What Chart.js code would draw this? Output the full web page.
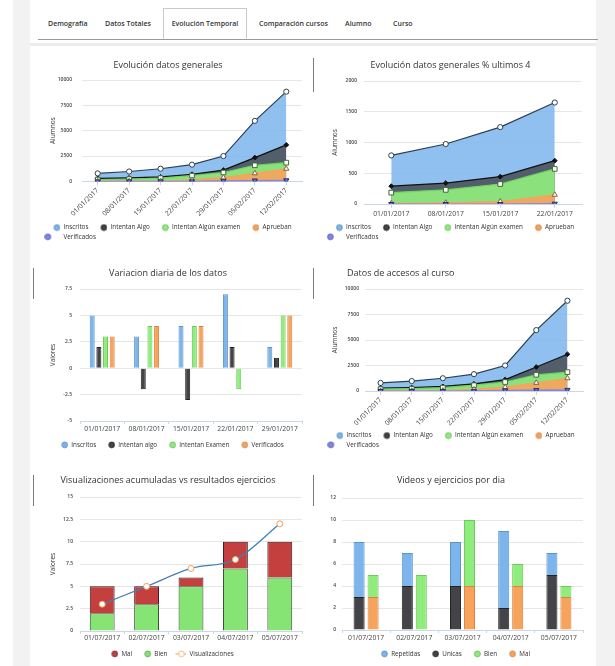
<!DOCTYPE html>
<html>
<head>
<meta charset="utf-8">
<script src="https://cdn.jsdelivr.net/npm/chart.js@4.4.1/dist/chart.umd.min.js"></script>
<style>
  body { margin: 0; width: 615px; height: 666px; position: relative; overflow: hidden; background: #fff; font-family: "Open Sans", sans-serif; }
  .side-l { position: absolute; left: 13px; top: 0; width: 17px; height: 666px; background: #f2f2f2; }
  .side-r { position: absolute; left: 596px; top: 0; width: 19px; height: 666px; background: #f2f2f2; }
  .tabs { position: absolute; left: 38px; top: 9px; width: 560px; height: 30px; border-bottom: 1px solid #999; }
  .tab { position: absolute; top: 0; height: 30px; line-height: 30px; font-size: 7px; font-weight: 600; color: #333; white-space: nowrap; }
  .tab.active { top: -1px; height: 31px; border: 1px solid #c9c9c9; border-bottom: 1px solid #fff; background: #fff; box-sizing: border-box; text-align: center; }
  .band { position: absolute; left: 30px; top: 43px; width: 566px; height: 3px; background: #ececec; }
  .box { position: absolute; }
  .mark { position: absolute; width: 1px; height: 31px; background: #7a7a7a; z-index: 2; }
</style>
</head>
<body>
<div class="side-l"></div>
<div class="side-r"></div>
<div class="tabs">
  <span class="tab" style="left:10px">Demografía</span>
  <span class="tab" style="left:67px">Datos Totales</span>
  <span class="tab active" style="left:125px;width:84px">Evolución Temporal</span>
  <span class="tab" style="left:221px">Comparación cursos</span>
  <span class="tab" style="left:307px">Alumno</span>
  <span class="tab" style="left:355px">Curso</span>
</div>
<div class="band"></div>

<div class="box" style="left:30px;top:50px"><canvas id="evolucion" width="280" height="200"></canvas></div>
<div class="box" style="left:315px;top:50px"><canvas id="ultimos4" width="280" height="200"></canvas></div>
<div class="box" style="left:30px;top:258px"><canvas id="variacion" width="280" height="200"></canvas></div>
<div class="box" style="left:315px;top:258px"><canvas id="accesos" width="280" height="200"></canvas></div>
<div class="box" style="left:30px;top:467px"><canvas id="visualizaciones" width="280" height="200"></canvas></div>
<div class="box" style="left:315px;top:467px"><canvas id="videos" width="280" height="200"></canvas></div>

<div class="mark" style="left:313px;top:58px;height:34px"></div>
<div class="mark" style="left:33px;top:268px"></div>
<div class="mark" style="left:313px;top:268px"></div>
<div class="mark" style="left:33px;top:475px"></div>
<div class="mark" style="left:313px;top:475px"></div>

<script>
// datos semanales (evolucion general y accesos)
const fechasSemana = ['01/01/2017', '08/01/2017', '15/01/2017', '22/01/2017', '29/01/2017', '05/02/2017', '12/02/2017'];
const inscritos = [790, 975, 1250, 1650, 2500, 5970, 8850];
const intentanAlgo = [290, 340, 445, 705, 1120, 2350, 3600];
const intentanExamen = [185, 230, 325, 570, 880, 1590, 1850];
const aprueban = [10, 20, 40, 150, 380, 800, 1250];
const verificados = [0, 0, 0, 5, 60, 90, 110];

// variacion diaria
const fechasVariacion = ['01/01/2017', '08/01/2017', '15/01/2017', '22/01/2017', '29/01/2017'];
const varInscritos = [5, 3, 4, 7, 2];
const varIntentanAlgo = [2, -2, -3, 2, 1];
const varIntentanExamen = [3, 4, 4, -2, 5];
const varVerificados = [3, 4, 4, 0, 5];

// julio
const fechasJulio = ['01/07/2017', '02/07/2017', '03/07/2017', '04/07/2017', '05/07/2017'];
const ejerciciosMal = [3, 2, 1, 3, 4];
const ejerciciosBien = [2, 3, 5, 7, 6];
const visualizaciones = [3, 5, 7, 8, 12];
const videosRepetidas = [5, 3, 4, 7, 2];
const videosUnicas = [3, 4, 4, 2, 5];
const diaBien = [2, 5, 6, 2, 1];
const diaMal = [3, 0, 4, 4, 3];

// ticks
const ticksAlumnos = [0, 2500, 5000, 7500, 10000];
const ticksUltimos4 = [0, 500, 1000, 1500, 2000];
const ticksVariacion = [-5, -2.5, 0, 2.5, 5, 7.5];
const ticksVisual = [0, 2.5, 5, 7.5, 10, 12.5, 15];
const ticksVideos = [0, 2, 4, 6, 8, 10, 12];

const FONT = '"Open Sans", sans-serif';
Chart.defaults.font.family = FONT;
Chart.defaults.color = '#444';

const azul = '#7cb5ec', negro = '#434348', verde = '#90ed7d', naranja = '#f7a35c', morado = '#8085e9';

// marcador de leyenda: hueco a la izquierda + circulo (o linea con circulo)
function legendMarker(fill, stroke, lineColor) {
  const c = document.createElement('canvas');
  c.width = 16; c.height = 8;
  const g = c.getContext('2d');
  let cx = 12.5;
  if (lineColor) {
    cx = 11;
    g.strokeStyle = lineColor; g.lineWidth = 1;
    g.beginPath(); g.moveTo(5, 4); g.lineTo(16, 4); g.stroke();
  }
  g.beginPath(); g.arc(cx, 4, 2.9, 0, Math.PI * 2);
  g.fillStyle = fill; g.fill();
  g.strokeStyle = stroke; g.lineWidth = 0.7; g.stroke();
  return c;
}

// leyenda centrada como bloque, filas alineadas a la izquierda
Chart.register({
  id: 'legendBlock',
  afterLayout(chart) {
    const lg = chart.legend;
    if (!lg || !lg.lineWidths || !lg.options.display) return;
    const pad = lg.options.labels.padding;
    const w = Math.max(...lg.lineWidths) - pad;
    lg.left += (lg.right - lg.left - w) / 2 - pad;
  }
});
Chart.register({
  id: 'titleShift',
  afterLayout(chart, args, opts) {
    if (opts && opts.x && chart.titleBlock) chart.titleBlock.left += opts.x;
  }
});

function legendOpts(markers) {
  return {
    position: 'bottom', align: 'start',
    labels: {
      usePointStyle: true, pointStyleWidth: 16, padding: 3, color: '#333',
      font: { size: 6.3 },
      generateLabels(chart) {
        const items = Chart.defaults.plugins.legend.labels.generateLabels(chart);
        items.forEach(it => { it.pointStyle = markers[it.datasetIndex]; });
        return items.sort((a, b) => a.datasetIndex - b.datasetIndex);
      }
    }
  };
}

function titleOpts(text, top, bottom, align) {
  return { display: true, text: text, color: '#333', align: align || 'center', font: { size: 9, weight: 'normal' }, padding: { top: top, bottom: bottom } };
}

function yAxis(o) {
  return {
    stacked: !!o.stacked,
    min: o.ticks[0], max: o.ticks[o.ticks.length - 1],
    afterFit(s) { s.width = o.width; },
    border: { display: false },
    grid: { color: '#e6e6e6', drawTicks: false },
    ticks: { stepSize: o.ticks[1] - o.ticks[0], padding: o.pad, color: '#444', font: { size: 5, weight: '600' }, callback: v => String(v) },
    title: { display: !!o.title, text: o.title || '', color: '#333', font: { size: 6.5 }, padding: { top: o.titleTop || 0, bottom: 0 } }
  };
}

function xAxis(o) {
  return {
    stacked: !!o.stacked,
    offset: true,
    afterFit(s) { s.height = o.height; },
    border: { display: true, color: '#ccd6eb' },
    grid: { drawOnChartArea: false, drawTicks: true, tickLength: o.tick, color: '#ccd6eb' },
    ticks: { color: '#444', font: { size: 6.8 }, padding: o.pad, minRotation: o.rot, maxRotation: o.rot, autoSkip: false }
  };
}

function areaSeries(label, data, fill, line, order, point) {
  return Object.assign({
    label: label, data: data, order: order, fill: 'origin',
    backgroundColor: fill, borderColor: line, borderWidth: 1.2,
    tension: 0, pointRadius: 2.6, pointBorderWidth: 1
  }, point);
}

function generales(n) {
  return [
    areaSeries('Inscritos', inscritos.slice(0, n), 'rgba(124,181,236,0.85)', '#2c3e50', 5,
      { pointStyle: 'circle', pointBackgroundColor: '#fff', pointBorderColor: '#2c3e50' }),
    areaSeries('Intentan Algo', intentanAlgo.slice(0, n), 'rgba(67,67,72,0.78)', '#111', 4,
      { pointStyle: 'rectRot', pointBackgroundColor: '#111', pointBorderColor: '#111', pointRadius: 2.4 }),
    areaSeries('Intentan Algún examen', intentanExamen.slice(0, n), 'rgba(144,237,125,0.92)', '#72d45f', 3,
      { pointStyle: 'rect', pointBackgroundColor: '#fff', pointBorderColor: '#3d6b35', pointRadius: 3.3 }),
    areaSeries('Aprueban', aprueban.slice(0, n), 'rgba(247,163,92,0.92)', '#f7a35c', 2,
      { pointStyle: 'triangle', pointBackgroundColor: '#fff', pointBorderColor: '#8a6037', pointRadius: 3 }),
    areaSeries('Verificados', verificados.slice(0, n), 'rgba(128,133,233,0.9)', '#8085e9', 1,
      { pointStyle: 'triangle', pointRotation: 180, pointBackgroundColor: '#6a6fd0', pointBorderColor: '#2b2e66', pointRadius: 3 })
  ];
}

const markersGenerales = [
  legendMarker(azul, '#4a7fb0'), legendMarker(negro, '#111'), legendMarker(verde, '#5aa84a'),
  legendMarker(naranja, '#c07a3a'), legendMarker(morado, '#4c50a8')
];

function baseOptions(o) {
  return {
    responsive: false, animation: false,
    layout: { padding: { left: 4, right: o.right, top: 0, bottom: 0 } },
    plugins: {
      title: titleOpts(o.title, o.tTop, o.tBottom, o.tAlign),
      titleShift: { x: o.tShift || 0 },
      legend: legendOpts(o.markers),
      tooltip: { enabled: false }
    },
    scales: { x: o.x, y: o.y }
  };
}

// 1. Evolucion datos generales
new Chart(document.getElementById('evolucion'), {
  type: 'line',
  data: { labels: fechasSemana, datasets: generales() },
  options: baseOptions({
    title: 'Evolución datos generales', tTop: 9.6, tBottom: 9.6, right: 8, markers: markersGenerales,
    x: xAxis({ height: 40, tick: 4, pad: 1, rot: 45 }),
    y: yAxis({ ticks: ticksAlumnos, width: 48, pad: 10, title: 'Alumnos', titleTop: 15.1 })
  })
});

// 2. Evolucion ultimos 4
new Chart(document.getElementById('ultimos4'), {
  type: 'line',
  data: { labels: fechasSemana.slice(0, 4), datasets: generales(4) },
  options: baseOptions({
    title: 'Evolución datos generales % ultimos 4', tTop: 9.6, tBottom: 10.6, right: 13, markers: markersGenerales,
    x: xAxis({ height: 17.4, tick: 4, pad: 1.5, rot: 0 }),
    y: yAxis({ ticks: ticksUltimos4, width: 45, pad: 7, title: 'Alumnos', titleTop: 12.1 })
  })
});

// 3. Variacion diaria
function barSeries(label, data, color, border, extra) {
  return Object.assign({ type: 'bar', label: label, data: data, backgroundColor: color, borderColor: border, borderWidth: 1 }, extra);
}
new Chart(document.getElementById('variacion'), {
  type: 'bar',
  data: {
    labels: fechasVariacion,
    datasets: [
      barSeries('Inscritos', varInscritos, azul, '#5d93c7'),
      barSeries('Intentan algo', varIntentanAlgo, negro, '#222'),
      barSeries('Intentan Examen', varIntentanExamen, verde, '#6cc95a'),
      barSeries('Verificados', varVerificados, naranja, '#d9843f')
    ].map(d => Object.assign(d, { categoryPercentage: 0.6, barPercentage: 0.75 }))
  },
  options: baseOptions({
    title: 'Variacion diaria de los datos', tTop: 9.6, tBottom: 10.6, right: 8,
    markers: [legendMarker(azul, '#4a7fb0'), legendMarker(negro, '#111'), legendMarker(verde, '#5aa84a'), legendMarker(naranja, '#c07a3a')],
    x: xAxis({ height: 17.7, tick: 3, pad: 1, rot: 0 }),
    y: yAxis({ ticks: ticksVariacion, width: 46, pad: 8, title: 'Valores', titleTop: 15.1 })
  })
});

// 4. Datos de accesos al curso
new Chart(document.getElementById('accesos'), {
  type: 'line',
  data: { labels: fechasSemana, datasets: generales() },
  options: baseOptions({
    title: 'Datos de accesos al curso', tTop: 9.6, tBottom: 10.6, tAlign: 'start', tShift: 28, right: 12, markers: markersGenerales,
    x: xAxis({ height: 38.4, tick: 4, pad: 1, rot: 45 }),
    y: yAxis({ ticks: ticksAlumnos, width: 46, pad: 6, title: 'Alumnos', titleTop: 12.1 })
  })
});

// 5. Visualizaciones acumuladas vs resultados ejercicios
new Chart(document.getElementById('visualizaciones'), {
  type: 'bar',
  data: {
    labels: fechasJulio,
    datasets: [
      barSeries('Mal', ejerciciosMal, '#c4403f', '#3a1515', { stack: 'ej', order: 2, categoryPercentage: 0.8, barPercentage: 0.7 }),
      barSeries('Bien', ejerciciosBien, '#86e474', '#2f4a2a', { stack: 'ej', order: 1, categoryPercentage: 0.8, barPercentage: 0.7 }),
      {
        type: 'line', label: 'Visualizaciones', data: visualizaciones, stack: 'vis', order: 0,
        borderColor: '#3f7fb3', borderWidth: 1.3, cubicInterpolationMode: 'monotone', fill: false,
        pointStyle: 'circle', pointRadius: 3, pointBackgroundColor: '#fff', pointBorderColor: '#f0a060', pointBorderWidth: 1
      }
    ]
  },
  options: baseOptions({
    title: 'Visualizaciones acumuladas vs resultados ejercicios', tTop: 7.6, tBottom: 11.6, right: 8,
    markers: [legendMarker('#c4403f', '#5a1a1a'), legendMarker('#86e474', '#4d8a43'), legendMarker('#fff', '#f0a060', '#f0a060')],
    x: xAxis({ height: 16.7, tick: 3, pad: 0, rot: 0, stacked: true }),
    y: yAxis({ ticks: ticksVisual, width: 46, pad: 7, title: 'Valores', titleTop: 15.1, stacked: true })
  })
});

// 6. Videos y ejercicios por dia
const barDia = { categoryPercentage: 0.58, barPercentage: 0.79 };
new Chart(document.getElementById('videos'), {
  type: 'bar',
  data: {
    labels: fechasJulio,
    datasets: [
      barSeries('Repetidas', videosRepetidas, azul, '#5d93c7', Object.assign({ stack: 'videos', order: 1 }, barDia)),
      barSeries('Unicas', videosUnicas, negro, '#222', Object.assign({ stack: 'videos', order: 0 }, barDia)),
      barSeries('Bien', diaBien, verde, '#6cc95a', Object.assign({ stack: 'ejercicios', order: 1 }, barDia)),
      barSeries('Mal', diaMal, naranja, '#d9843f', Object.assign({ stack: 'ejercicios', order: 0 }, barDia))
    ]
  },
  options: baseOptions({
    title: 'Videos y ejercicios por dia', tTop: 7.6, tBottom: 12.6, right: 12,
    markers: [legendMarker(azul, '#4a7fb0'), legendMarker(negro, '#111'), legendMarker(verde, '#5aa84a'), legendMarker(naranja, '#c07a3a')],
    x: xAxis({ height: 17.7, tick: 3, pad: 1, rot: 0, stacked: true }),
    y: yAxis({ ticks: ticksVideos, width: 23, pad: 6, stacked: true })
  })
});
</script>
</body>
</html>
